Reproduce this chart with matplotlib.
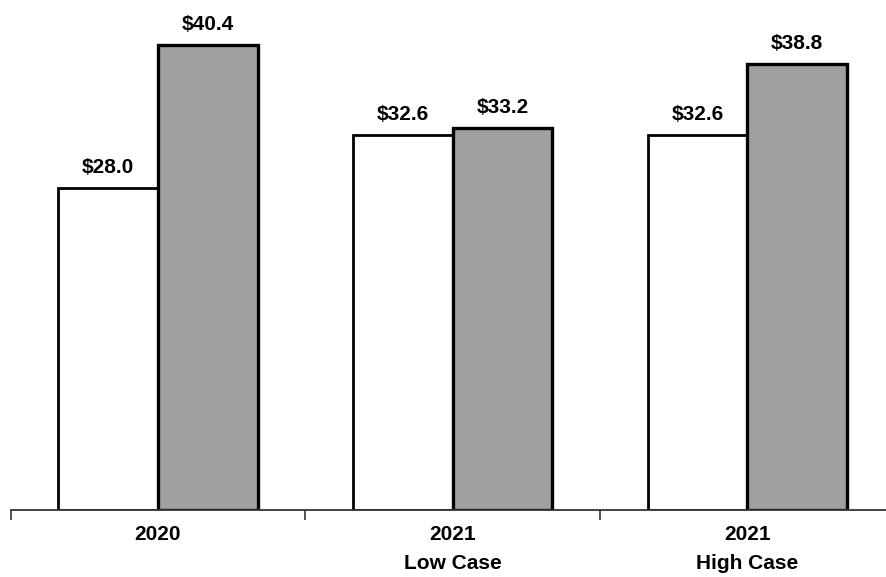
import numpy as np
import matplotlib.pyplot as plt

# Data
groups = ["2020", "2021\nLow Case", "2021\nHigh Case"]
first_vals = [28.0, 32.6, 32.6]
second_vals = [40.4, 33.2, 38.8]

plt.rcParams['font.family'] = ['Liberation Sans', 'DejaVu Sans']

fig = plt.figure(figsize=(8.86, 5.77), dpi=100)
ax = fig.add_axes([0.012, 0.116, 0.988, 0.884])

x = np.arange(len(groups))
w = 0.338

b1 = ax.bar(x - w / 2, first_vals, width=w, color="white", edgecolor="black", linewidth=2.0)
b2 = ax.bar(x + w / 2, second_vals, width=w, color="#a0a0a0", edgecolor="black", linewidth=2.4)

for bars, vals in [(b1, first_vals), (b2, second_vals)]:
    for rect, v in zip(bars, vals):
        ax.annotate(f"${v:.1f}", (rect.get_x() + rect.get_width() / 2, v),
                    xytext=(0, 8), textcoords="offset points",
                    ha="center", va="bottom", fontsize=15, fontweight="bold")

ax.set_xlim(-0.5, -0.5 + 875 / 294.5)
ax.set_ylim(0, 44.35)

# group separators as major ticks, labels on minor ticks
ax.set_xticks([-0.5, 0.5, 1.5])
ax.set_xticklabels([])
ax.tick_params(axis="x", which="major", direction="out", length=7, width=1.2, color="#333333")
ax.set_xticks(x, minor=True)
ax.set_xticklabels(groups, minor=True, fontsize=15, fontweight="bold", linespacing=1.65)
ax.tick_params(axis="x", which="minor", length=0, pad=11)

ax.set_yticks([])
for s in ["top", "right", "left"]:
    ax.spines[s].set_visible(False)
ax.spines["bottom"].set_linewidth(1.3)
ax.spines["bottom"].set_color("#333333")

plt.savefig("out.png", dpi=100)
